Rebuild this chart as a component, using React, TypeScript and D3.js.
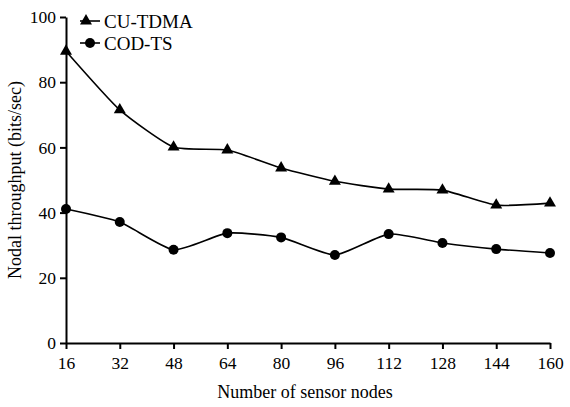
import React, { useEffect, useRef } from "react";
import * as d3 from "d3";

const nodes = [16, 32, 48, 64, 80, 96, 112, 128, 144, 160];
const cuTdma = [89.5, 71.5, 60.1, 59.2, 53.7, 49.6, 47.2, 46.9, 42.3, 42.9];
const codTs = [41.1, 37.1, 28.6, 33.7, 32.4, 27.0, 33.4, 30.7, 28.8, 27.6];
const yTicks = [0, 20, 40, 60, 80, 100];
const seriesNames = ["CU-TDMA", "COD-TS"];

const App: React.FC = () => {
  const ref = useRef<SVGSVGElement | null>(null);

  useEffect(() => {
    if (!ref.current) return;
    const svg = d3.select(ref.current);
    svg.selectAll("*").remove();

    const font = "'Liberation Serif', 'Times New Roman', serif";
    const x = d3.scaleLinear().domain([16, 160]).range([66, 550]);
    const y = d3.scaleLinear().domain([0, 100]).range([343, 17]);

    // y axis
    const yAxis = svg.append("g").attr("transform", `translate(${x(16)},0)`)
      .call(d3.axisLeft(y).tickValues(yTicks).tickSize(6).tickPadding(4).tickSizeOuter(0));
    // x axis
    const xAxis = svg.append("g").attr("transform", `translate(0,${y(0)})`)
      .call(d3.axisBottom(x).tickValues(nodes).tickSize(6).tickPadding(8).tickSizeOuter(0));

    [yAxis, xAxis].forEach((a) => {
      a.select(".domain").attr("stroke", "#000").attr("stroke-width", 2);
      a.selectAll(".tick line").attr("stroke", "#000").attr("stroke-width", 2);
      a.selectAll(".tick text").attr("fill", "#000").style("font-family", font).style("font-size", "17.5px");
    });

    svg.append("text")
      .attr("transform", `translate(21,${y(50)}) rotate(-90)`)
      .attr("text-anchor", "middle")
      .style("font-family", font).style("font-size", "18px")
      .text("Nodal throughput (bits/sec)");

    svg.append("text")
      .attr("x", 305).attr("y", 398)
      .attr("text-anchor", "middle")
      .style("font-family", font).style("font-size", "18px")
      .text("Number of sensor nodes");

    const line = d3.line<number>()
      .x((_, i) => x(nodes[i]))
      .y((d) => y(d))
      .curve(d3.curveCardinal.tension(0.45));

    const tri = d3.symbol().type(d3.symbolTriangle).size(62);

    svg.append("path").attr("d", line(cuTdma)).attr("fill", "none").attr("stroke", "#000").attr("stroke-width", 1.6);
    svg.append("path").attr("d", line(codTs)).attr("fill", "none").attr("stroke", "#000").attr("stroke-width", 1.6);

    svg.selectAll(".tri").data(cuTdma).enter().append("path")
      .attr("d", tri())
      .attr("transform", (d, i) => `translate(${x(nodes[i])},${y(d)})`)
      .attr("fill", "#000");

    svg.selectAll(".dot").data(codTs).enter().append("circle")
      .attr("cx", (_, i) => x(nodes[i])).attr("cy", (d) => y(d)).attr("r", 5)
      .attr("fill", "#000");

    // legend
    const lg = svg.append("g");
    seriesNames.forEach((name, i) => {
      const yy = 21 + i * 22;
      lg.append("line").attr("x1", 80).attr("x2", 100).attr("y1", yy).attr("y2", yy)
        .attr("stroke", "#000").attr("stroke-width", 1.6);
      if (i === 0) {
        lg.append("path").attr("d", tri()).attr("transform", `translate(86,${yy})`).attr("fill", "#000");
      } else {
        lg.append("circle").attr("cx", 90).attr("cy", yy).attr("r", 5).attr("fill", "#000");
      }
      lg.append("text").attr("x", 104).attr("y", yy + 6.5)
        .style("font-family", font).style("font-size", "19px")
        .text(name);
    });
  }, []);

  return <svg ref={ref} width={570} height={407} style={{ position: "absolute", left: 0, top: 0, background: "#fff" }} />;
};

export default App;
